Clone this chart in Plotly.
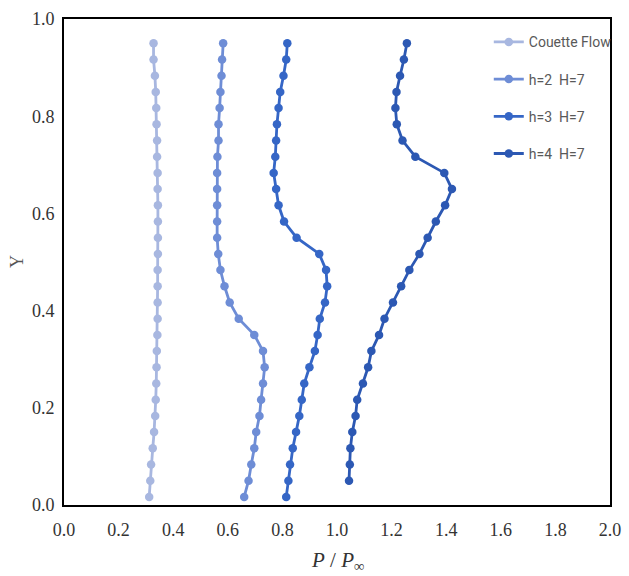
import plotly.graph_objects as go

# Non-dimensional height Y at the grid points (bottom to top)
y_levels = [(i + 0.5) / 30 for i in range(29)]

# Pressure ratio P/P_inf along Y, listed bottom to top
couette = [0.312, 0.316, 0.319, 0.325, 0.330, 0.334, 0.336, 0.338, 0.339, 0.340,
           0.342, 0.343, 0.343, 0.343, 0.343, 0.344, 0.344, 0.344, 0.344, 0.343,
           0.343, 0.341, 0.341, 0.339, 0.338, 0.336, 0.333, 0.328, 0.328]
h2_H7 = [0.660, 0.676, 0.686, 0.697, 0.704, 0.716, 0.722, 0.729, 0.735, 0.729,
         0.697, 0.640, 0.607, 0.588, 0.573, 0.565, 0.561, 0.561, 0.561, 0.561,
         0.561, 0.562, 0.566, 0.566, 0.570, 0.573, 0.577, 0.579, 0.583]
h3_H7 = [0.814, 0.822, 0.828, 0.838, 0.850, 0.862, 0.871, 0.880, 0.899, 0.919,
         0.929, 0.937, 0.956, 0.964, 0.960, 0.935, 0.852, 0.806, 0.786, 0.777,
         0.768, 0.774, 0.777, 0.780, 0.786, 0.792, 0.804, 0.814, 0.818]
# h=4 starts one grid level higher
h4_H7 = [1.044, 1.047, 1.049, 1.056, 1.068, 1.074, 1.095, 1.114, 1.126, 1.154,
         1.174, 1.205, 1.235, 1.265, 1.302, 1.332, 1.362, 1.396, 1.421, 1.393,
         1.287, 1.240, 1.219, 1.214, 1.218, 1.231, 1.245, 1.256]

series = [
    ("Couette Flow", couette, y_levels, "#A8B7E0"),
    ("h=2  H=7", h2_H7, y_levels, "#6E8DD6"),
    ("h=3  H=7", h3_H7, y_levels, "#3566C6"),
    ("h=4  H=7", h4_H7, y_levels[1:], "#2C58B3"),
]

x_ticks = [round(0.2 * k, 1) for k in range(11)]
y_ticks = [round(0.2 * k, 1) for k in range(6)]

fig = go.Figure()
for name, xs, ys, color in series:
    fig.add_trace(go.Scatter(
        x=xs, y=ys, name=name, mode="lines+markers",
        legendgroup=name,
        line=dict(color=color, width=2.8),
        marker=dict(color=color, size=8.5),
    ))

serif = "Times New Roman, Liberation Serif, serif"
axis_common = dict(
    showgrid=False, zeroline=False, showline=True, linecolor="black",
    linewidth=2, mirror=True, ticks="", automargin=False,
    tickfont=dict(family=serif, size=18, color="#333333"),
)

fig.update_layout(
    width=629, height=576,
    margin=dict(l=64, r=14, t=19, b=71),
    paper_bgcolor="white", plot_bgcolor="white",
    font=dict(family=serif, size=18, color="#333333"),
    xaxis=dict(range=[0, 2], tickvals=x_ticks,
               ticktext=[f"{v:.1f}" for v in x_ticks],
               ticklabelstandoff=7, **axis_common),
    yaxis=dict(range=[0, 1], tickvals=y_ticks,
               ticktext=[f"{v:.1f}" for v in y_ticks],
               ticklabelstandoff=4, **axis_common),
    legend=dict(x=0.778, y=0.985, xanchor="left", yanchor="top",
                bgcolor="rgba(0,0,0,0)", tracegroupgap=16,
                font=dict(family="Roboto", size=14, color="#595959")),
    showlegend=True,
    annotations=[
        dict(text="<i>P</i> / <i>P</i><sub>∞</sub>", xref="paper", yref="paper",
             x=0.5, y=-0.115, xanchor="center", yanchor="middle", showarrow=False,
             font=dict(family=serif, size=21, color="#333333")),
        dict(text="Y", xref="paper", yref="paper", textangle=-90,
             x=-0.086, y=0.5, xanchor="center", yanchor="middle", showarrow=False,
             font=dict(family=serif, size=18, color="#555555")),
    ],
)

fig.write_html("out.html")
